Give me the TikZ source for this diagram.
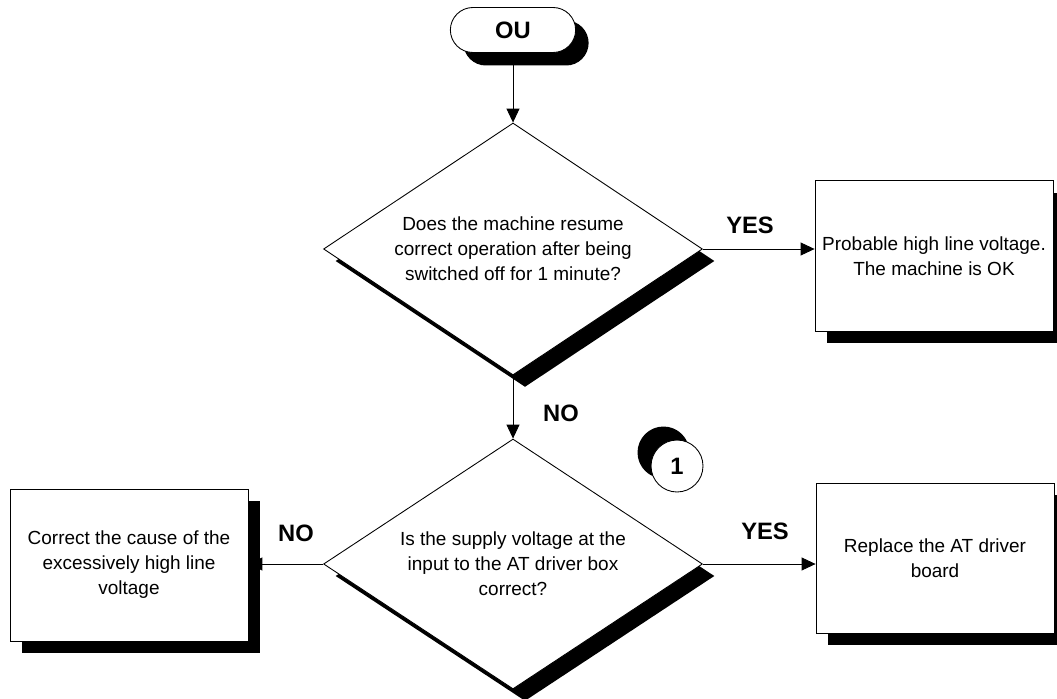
\documentclass[tikz,border=0pt]{standalone}
\usepackage{fontspec}
\setmainfont{Liberation Sans}
\usetikzlibrary{shapes, shapes.misc, shapes.geometric, shadows, arrows.meta, positioning}

\begin{document}
\begin{tikzpicture}[x=0.02cm, y=-0.02cm, line width=0.5pt,
  every node/.style={font=\fontsize{10.8}{14.2}\selectfont, align=center},
  blackshadow/.style={general shadow={fill=black, shadow xshift=0.24cm, shadow yshift=-0.24cm}},
  box/.style={draw, fill=white, blackshadow, minimum width=4.76cm, minimum height=3.02cm, inner sep=0pt},
  ask/.style={draw, fill=white, diamond, aspect=1.5, blackshadow, minimum width=7.58cm, minimum height=5.04cm, inner sep=0pt},
  tag/.style={font=\fontsize{13.5}{16}\selectfont\bfseries},
  arr/.style={-{Triangle[length=0.28cm, width=0.26cm]}}]
  \useasboundingbox (0,0) rectangle (1057,699);
  \node[draw, fill=white, rounded rectangle, minimum width=2.74cm, minimum height=0.9cm, tag, general shadow={fill=black, shadow xshift=0.26cm, shadow yshift=-0.26cm}] (ou) at (513,30) {OU};
  \node[ask] (q1) at (513,249) {Does the machine resume\\correct operation after being\\switched off for 1 minute?};
  \node[box] (ok) at (934,256) {Probable high line voltage.\\The machine is OK};
  \node[ask, minimum height=5cm] (q2) at (513,564) {Is the supply voltage at the\\input to the AT driver box\\correct?};
  \node[box, minimum height=3.04cm] (fix) at (129,565) {Correct the cause of the\\excessively high line\\voltage};
  \node[box, minimum height=3cm] (rep) at (935,558) {Replace the AT driver\\board};
  \node[draw, fill=white, circle, minimum size=1.04cm, inner sep=0pt, tag, general shadow={fill=black, shadow xshift=-0.27cm, shadow yshift=0.27cm}] (link) at (677,466) {1};
  \node[tag] (yes1) at (750,225) {YES};
  \node[tag] (no1) at (561,413) {NO};
  \node[tag] (no2) at (296,533) {NO};
  \node[tag] (yes2) at (765,531) {YES};
  \draw[arr] (ou.south) -- (q1.north);
  \draw[arr] (q1.east) -- (q1.east -| ok.west);
  \draw[arr] (q1.south) -- (q2.north);
  \draw[arr] (q2.east) -- (q2.east -| rep.west);
  \draw[arr] (q2.west) -- (q2.west -| fix.east);
\end{tikzpicture}
\end{document}
